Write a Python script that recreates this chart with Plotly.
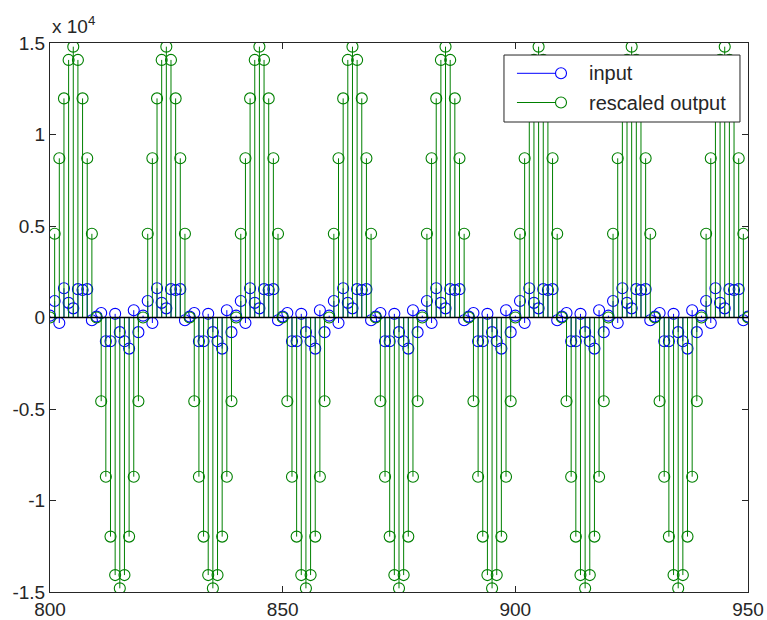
import plotly.graph_objects as go

# ---------------- data ----------------
sample_index = list(range(800, 951))

# rescaled output (green stems)
output_period = [0, 4573, 8699, 11973, 14076, 14800, 14076, 11973, 8699, 4573,
                 0, -4573, -8699, -11973, -14076, -14800, -14076, -11973, -8699, -4573]
rescaled_output = (output_period * 8)[:151]

# input (blue stems) (approximate, repeats every 20 samples)
input_period = [100, 900, -300, 1600, 800, 500, 1550, 1500, 1550, -150,
                50, 250, -1300, -1300, 200, -800, -1300, -1700, 400, -800]
input_values = (input_period * 8)[:151]

series_names = ["input", "rescaled output"]
x_ticks = [800, 850, 900, 950]
y_tick_vals = [-15000, -10000, -5000, 0, 5000, 10000, 15000]
y_tick_text = ["-1.5", "-1", "-0.5", "0", "0.5", "1", "1.5"]

BLUE = "#0000FF"
GREEN = "#008000"
AX = "#262626"
FONT = "Liberation Sans, Arial, sans-serif"
MSIZE = 11


def stems(xs, ys):
    sx, sy = [], []
    for a, b in zip(xs, ys):
        sx += [a, a, None]
        sy += [0, b, None]
    return sx, sy


fig = go.Figure()

for vals, col in [(input_values, BLUE), (rescaled_output, GREEN)]:
    sx, sy = stems(sample_index, vals)
    fig.add_trace(go.Scatter(x=sx, y=sy, mode="lines",
                             line=dict(color=col, width=1),
                             showlegend=False, hoverinfo="skip"))
    fig.add_trace(go.Scatter(x=sample_index, y=vals, mode="markers",
                             marker=dict(symbol="circle-open", size=MSIZE,
                                         color=col, line=dict(width=1.1, color=col)),
                             showlegend=False))

# stem baseline
fig.add_shape(type="line", xref="paper", yref="y", x0=0, x1=1, y0=0, y1=0,
              line=dict(color="black", width=1.5))

# MATLAB-style legend (line with marker at its right end)
fig.add_shape(type="rect", xref="paper", yref="paper",
              x0=0.6504, x1=0.9885, y0=0.8561, y1=0.9781,
              fillcolor="white", line=dict(color=AX, width=1))
for name, col, yy in [(series_names[0], BLUE, 0.9448), (series_names[1], GREEN, 0.8916)]:
    fig.add_shape(type="line", xref="paper", yref="paper",
                  x0=0.669, x1=0.7245, y0=yy, y1=yy, line=dict(color=col, width=1))
    fig.add_shape(type="circle", xref="paper", yref="paper",
                  xsizemode="pixel", ysizemode="pixel",
                  xanchor=0.7321, yanchor=yy, x0=-5.5, x1=5.5, y0=-5.5, y1=5.5,
                  line=dict(color=col, width=1.1))
    fig.add_annotation(xref="paper", yref="paper", x=0.7693, y=yy,
                       xanchor="left", yanchor="middle", text=name, showarrow=False,
                       font=dict(family=FONT, size=20, color=AX))

axis_common = dict(showgrid=False, zeroline=False, showline=True, mirror="ticks",
                   linecolor=AX, linewidth=1, ticks="inside", ticklen=6,
                   tickcolor=AX,
                   tickfont=dict(family=FONT, size=19, color=AX))

fig.update_xaxes(range=[800, 950], tickvals=x_ticks, ticktext=[str(t) for t in x_ticks],
                 **axis_common)
fig.update_yaxes(range=[-15000, 15000], tickvals=y_tick_vals, ticktext=y_tick_text,
                 **axis_common)

fig.add_annotation(xref="paper", yref="paper", x=0, y=1, xanchor="left", yanchor="bottom",
                   text="x 10<sup>4</sup>", showarrow=False, yshift=4,
                   font=dict(family=FONT, size=19, color=AX))

fig.update_layout(
    width=767, height=620,
    margin=dict(l=50, r=19, t=43, b=28, autoexpand=False),
    paper_bgcolor="white", plot_bgcolor="white",
    showlegend=False,
)

fig.write_html("out.html",
               config={"displayModeBar": False},
               post_script="document.body.style.margin='0';document.body.style.overflow='hidden';")
